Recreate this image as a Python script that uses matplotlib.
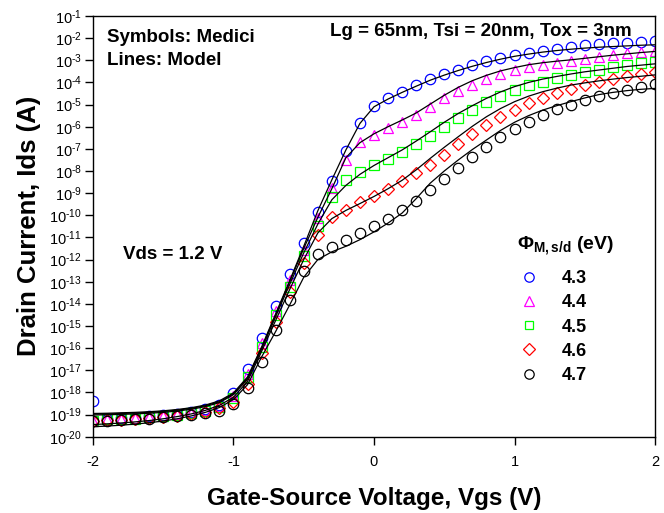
import numpy as np
import matplotlib
matplotlib.use("Agg")
import matplotlib.pyplot as plt
from matplotlib.lines import Line2D
from matplotlib.ticker import FixedLocator, FuncFormatter, NullLocator

plt.rcParams['font.family'] = ['Liberation Sans', 'DejaVu Sans']
plt.rcParams['mathtext.fontset'] = 'custom'
plt.rcParams['mathtext.rm'] = 'Liberation Sans'
plt.rcParams['mathtext.it'] = 'Liberation Sans:italic'
plt.rcParams['mathtext.bf'] = 'Liberation Sans:bold'

# gate voltage grid (V), Medici points every 0.1 V
vgs = np.linspace(-2.0, 2.0, 41)

# Medici symbols, log10(Ids / A)
medici_43 = [-18.38, -19.18, -19.16, -19.14, -19.08, -19.02, -18.96, -18.87, -18.75, -18.55, -18.03,
             -16.94, -15.52, -14.10, -12.65, -11.27, -9.84, -8.45, -7.09, -5.84,
             -5.08, -4.70, -4.41, -4.13, -3.86, -3.61, -3.42, -3.20, -3.05, -2.90, -2.75,
             -2.65, -2.57, -2.47, -2.39, -2.33, -2.27, -2.23, -2.20, -2.17, -2.13]
medici_44 = [-19.28, -19.20, -19.18, -19.16, -19.10, -19.05, -18.99, -18.91, -18.80, -18.60, -18.15,
             -17.17, -15.78, -14.30, -12.90, -11.55, -10.10, -8.78, -7.49, -6.70,
             -6.36, -6.05, -5.77, -5.47, -5.12, -4.72, -4.40, -4.10, -3.85, -3.63, -3.46,
             -3.30, -3.20, -3.10, -3.02, -2.93, -2.84, -2.76, -2.68, -2.62, -2.56]
medici_45 = [-19.28, -19.22, -19.20, -19.18, -19.12, -19.07, -19.01, -18.93, -18.83, -18.64, -18.25,
             -17.29, -15.94, -14.51, -13.22, -11.84, -10.49, -9.19, -8.41, -8.05,
             -7.73, -7.45, -7.13, -6.78, -6.43, -6.02, -5.62, -5.23, -4.87, -4.60, -4.35,
             -4.12, -3.97, -3.82, -3.66, -3.54, -3.42, -3.30, -3.20, -3.12, -3.06]
medici_46 = [-19.30, -19.25, -19.23, -19.20, -19.15, -19.10, -19.05, -18.98, -18.90, -18.72, -18.45,
             -17.64, -16.21, -14.81, -13.45, -12.17, -10.87, -10.09, -9.75, -9.41,
             -9.12, -8.80, -8.47, -8.10, -7.73, -7.26, -6.78, -6.33, -5.92, -5.56, -5.23,
             -4.93, -4.70, -4.48, -4.31, -4.13, -3.98, -3.84, -3.72, -3.60, -3.53]
medici_47 = [-19.30, -19.28, -19.25, -19.22, -19.18, -19.13, -19.08, -19.02, -18.95, -18.85, -18.50,
             -17.82, -16.61, -15.17, -13.82, -12.52, -11.75, -11.42, -11.12, -10.80,
             -10.49, -10.15, -9.76, -9.34, -8.87, -8.36, -7.88, -7.37, -6.92, -6.48, -6.10,
             -5.77, -5.46, -5.22, -5.02, -4.80, -4.62, -4.46, -4.32, -4.20, -4.07]

# model lines, log10(Ids / A)
model_43 = [-18.95, -18.94, -18.92, -18.90, -18.87, -18.83, -18.77, -18.69, -18.57, -18.38, -18.02,
            -17.30, -15.95, -14.45, -12.95, -11.40, -9.80, -8.40, -7.05, -5.85,
            -5.10, -4.75, -4.45, -4.17, -3.90, -3.67, -3.46, -3.27, -3.10, -2.95, -2.82,
            -2.72, -2.63, -2.56, -2.50, -2.45, -2.41, -2.38, -2.35, -2.32, -2.30]
model_44 = [-18.98, -18.97, -18.95, -18.93, -18.90, -18.86, -18.80, -18.72, -18.60, -18.42, -18.06,
            -17.35, -16.00, -14.50, -13.00, -11.50, -10.10, -8.80, -7.40, -6.72,
            -6.32, -6.00, -5.70, -5.38, -4.98, -4.58, -4.22, -3.92, -3.68, -3.48, -3.33,
            -3.20, -3.11, -3.04, -2.98, -2.91, -2.84, -2.77, -2.71, -2.65, -2.60]
model_45 = [-19.02, -19.01, -18.99, -18.97, -18.94, -18.90, -18.84, -18.76, -18.64, -18.46, -18.10,
            -17.40, -16.05, -14.58, -13.12, -11.70, -10.40, -9.30, -8.65, -8.15,
            -7.75, -7.40, -7.05, -6.65, -6.23, -5.80, -5.40, -5.05, -4.72, -4.43, -4.19,
            -4.00, -3.85, -3.73, -3.62, -3.52, -3.44, -3.36, -3.28, -3.22, -3.16]
model_46 = [-19.45, -19.42, -19.38, -19.33, -19.27, -19.19, -19.09, -18.97, -18.81, -18.58, -18.22,
            -17.50, -16.15, -14.75, -13.35, -12.00, -10.80, -10.15, -9.78, -9.47,
            -9.15, -8.80, -8.42, -7.95, -7.43, -6.93, -6.45, -5.98, -5.55, -5.18, -4.87,
            -4.62, -4.42, -4.26, -4.12, -4.02, -3.93, -3.85, -3.78, -3.72, -3.66]
model_47 = [-19.55, -19.52, -19.48, -19.43, -19.37, -19.29, -19.19, -19.06, -18.90, -18.68, -18.32,
            -17.65, -16.40, -15.25, -14.05, -12.80, -12.00, -11.65, -11.40, -11.10,
            -10.75, -10.35, -9.90, -9.25, -8.55, -8.00, -7.50, -7.03, -6.60, -6.17, -5.80,
            -5.50, -5.25, -5.05, -4.87, -4.70, -4.55, -4.45, -4.37, -4.31, -4.27]

phi_labels = ['4.3', '4.4', '4.5', '4.6', '4.7']
colors = ['#0000ff', '#ff00ff', '#00ff00', '#ff0000', '#000000']
markers = ['o', '^', 's', 'D', 'o']
sizes = [7.5, 7.5, 6.5, 6.5, 7.5]

medici = [medici_43, medici_44, medici_45, medici_46, medici_47]
model = [model_43, model_44, model_45, model_46, model_47]

fig = plt.figure(figsize=(6.64, 5.13), dpi=100)
ax = fig.add_axes([0.140, 0.1487, 0.8465, 0.8201])

for ys, c, m, s in zip(medici, colors, markers, sizes):
    ax.plot(vgs, 10.0 ** np.array(ys), linestyle='none', marker=m, ms=s,
            mfc='none', mec=c, mew=0.9, zorder=2)
for ys in model:
    ax.plot(vgs, 10.0 ** np.array(ys), color='black', lw=0.9, zorder=3)

ax.set_yscale('log')
ax.set_xlim(-2, 2)
ax.set_ylim(1e-20, 1e-1)
ax.xaxis.set_major_locator(FixedLocator([-2, -1, 0, 1, 2]))
ax.xaxis.set_major_formatter(FuncFormatter(lambda v, p: '%d' % v if v >= 0 else '-%d' % abs(v)))
ax.yaxis.set_major_locator(FixedLocator([10.0 ** k for k in range(-20, 0)]))
ax.yaxis.set_major_formatter(FuncFormatter(
    lambda v, p: r'$\mathregular{10^{\text{-}%d}}$' % abs(int(round(np.log10(v))))))
ax.yaxis.set_minor_locator(NullLocator())
ax.xaxis.set_minor_locator(NullLocator())
ax.tick_params(axis='both', direction='out', length=6, width=1, labelsize=10.5)
ax.tick_params(axis='x', pad=7)
ax.tick_params(axis='y', pad=2)
for sp in ax.spines.values():
    sp.set_linewidth(1.0)

ax.set_xlabel('Gate-Source Voltage, Vgs (V)', fontsize=17.5, fontweight='bold', labelpad=13)
ax.set_ylabel('Drain Current, Ids (A)', fontsize=18.5, fontweight='bold', labelpad=6)

ax.text(0.025, 0.95, 'Symbols: Medici', transform=ax.transAxes, fontsize=13.5,
        fontweight='bold', va='center')
ax.text(0.025, 0.895, 'Lines: Model', transform=ax.transAxes, fontsize=13.5,
        fontweight='bold', va='center')
ax.text(0.422, 0.962, 'Lg = 65nm, Tsi = 20nm, Tox = 3nm', transform=ax.transAxes,
        fontsize=13.5, fontweight='bold', va='center')
ax.text(0.053, 0.434, 'Vds = 1.2 V', transform=ax.transAxes, fontsize=13.5,
        fontweight='bold', va='center')
ax.text(0.754, 0.455, r'$\mathbf{\Phi_{M,s/d}}$ (eV)', transform=ax.transAxes,
        fontsize=14, fontweight='bold', va='center')

handles = [Line2D([], [], linestyle='none', marker=m, ms=s * 0.9, mfc='none', mec=c, mew=0.9)
           for c, m, s in zip(colors, markers, sizes)]
ax.legend(handles, phi_labels, loc='upper left', bbox_to_anchor=(0.76, 0.396),
          frameon=False, prop={'size': 13, 'weight': 'bold'}, handlelength=1.0,
          handletextpad=1.3, labelspacing=0.4, borderpad=0, borderaxespad=0)

fig.savefig('out.png', dpi=100)
